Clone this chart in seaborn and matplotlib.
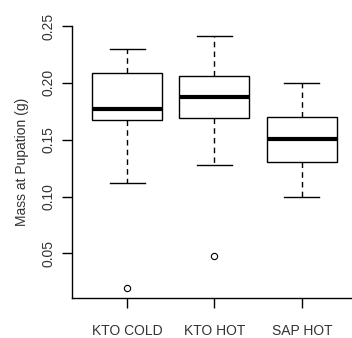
import seaborn as sns
import matplotlib.pyplot as plt
import pandas as pd

# five-number summaries (g)
groups = ["KTO COLD", "KTO HOT", "SAP HOT"]
lower_whisker = [0.112, 0.128, 0.100]
q1 = [0.167, 0.169, 0.130]
median = [0.177, 0.188, 0.151]
q3 = [0.209, 0.206, 0.170]
upper_whisker = [0.230, 0.241, 0.200]
outliers = [[0.020], [0.048], []]

# 9 values per group so numpy quartiles land on q1/median/q3 exactly
rows = []
for i, g in enumerate(groups):
    vals = [lower_whisker[i], q1[i], q1[i], median[i], q3[i], q3[i],
            upper_whisker[i], upper_whisker[i]]
    vals += outliers[i] if outliers[i] else [lower_whisker[i]]
    for v in vals:
        rows.append({"group": g, "mass": v})
df = pd.DataFrame(rows)

plt.rcParams['font.family'] = ['Liberation Sans', 'DejaVu Sans']

fig = plt.figure(figsize=(3.52, 3.38), dpi=100)
ax = fig.add_axes([72 / 352, 40 / 338, 284 / 352, 272 / 338])

sns.boxplot(data=df, x="group", y="mass", order=groups, width=0.8,
            color="white", linecolor="black", linewidth=1,
            whis=1.5, ax=ax,
            boxprops=dict(facecolor="white", edgecolor="black"),
            whiskerprops=dict(linestyle=(0, (4, 3)), color="black"),
            capprops=dict(color="black"),
            medianprops=dict(color="black", linewidth=3),
            flierprops=dict(marker="o", markersize=4.5, markerfacecolor="none",
                            markeredgecolor="black", markeredgewidth=0.8))

ax.set_xlim(-0.63, 2.62)
ax.set_ylim(0.0108, 0.25)
ax.set_yticks([0.05, 0.10, 0.15, 0.20, 0.25])
ax.set_yticklabels(["0.05", "0.10", "0.15", "0.20", "0.25"], rotation=90, va="center")
ax.set_xlabel("")
ax.set_ylabel("Mass at Pupation (g)", fontsize=10, color="#333333", labelpad=9)
ax.tick_params(axis="both", labelsize=10, length=7, width=1, colors="black",
               labelcolor="#333333")
ax.tick_params(axis="y", pad=5)
ax.tick_params(axis="x", pad=12)
for s in ["top", "right"]:
    ax.spines[s].set_visible(False)
for s in ["left", "bottom"]:
    ax.spines[s].set_linewidth(1)

fig.savefig("out.png", dpi=100)
